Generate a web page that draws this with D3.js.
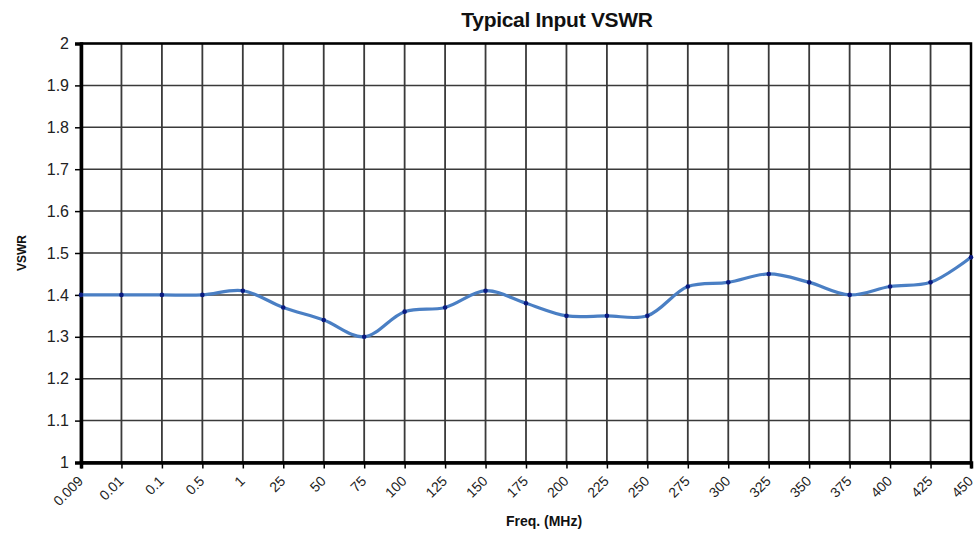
<!DOCTYPE html>
<html>
<head>
<meta charset="utf-8">
<script src="https://cdn.jsdelivr.net/npm/d3@7"></script>
<style>
  body { margin: 0; background: #fff; }
  text { font-family: "Liberation Sans", Arial, sans-serif; }
</style>
</head>
<body>
<svg id="chart" width="976" height="535"></svg>
<script>
// categories along the x axis (frequency, MHz)
const freqLabels = ["0.009", "0.01", "0.1", "0.5", "1", "25", "50", "75", "100", "125", "150",
    "175", "200", "225", "250", "275", "300", "325", "350", "375", "400", "425", "450"];
// VSWR
const vswrValues = [1.40, 1.40, 1.40, 1.40, 1.41, 1.37, 1.34, 1.30, 1.36, 1.37, 1.41,
    1.38, 1.35, 1.35, 1.35, 1.42, 1.43, 1.45, 1.43, 1.40, 1.42, 1.43, 1.49];
const yTicks = [1, 1.1, 1.2, 1.3, 1.4, 1.5, 1.6, 1.7, 1.8, 1.9, 2];

const margin = {top: 43.5, right: 5, bottom: 72.5, left: 81};
const width = 976 - margin.left - margin.right;
const height = 535 - margin.top - margin.bottom;

let svg = d3.select("#chart");
let g = svg.append("g").attr("transform", `translate(${margin.left},${margin.top})`);

let x = d3.scalePoint().domain(freqLabels).range([0, width]);
let y = d3.scaleLinear().domain([1, 2]).range([height, 0]);

// horizontal gridlines
g.selectAll("line.hgrid")
    .data(yTicks)
    .enter()
    .append("line")
    .attr("class", "hgrid")
    .attr("x1", 0).attr("x2", width)
    .attr("y1", d => y(d)).attr("y2", d => y(d))
    .attr("stroke", "#3a3a3a").attr("stroke-width", 1.5);

// vertical gridlines
g.selectAll("line.vgrid")
    .data(freqLabels)
    .enter()
    .append("line")
    .attr("class", "vgrid")
    .attr("x1", d => x(d)).attr("x2", d => x(d))
    .attr("y1", 0).attr("y2", height)
    .attr("stroke", "#3a3a3a").attr("stroke-width", 1.8);

// frame
g.append("rect")
    .attr("width", width).attr("height", height)
    .attr("fill", "none").attr("stroke", "#000").attr("stroke-width", 2.5);

// y axis
let yAxis = g.append("g")
    .call(d3.axisLeft(y).tickValues(yTicks).tickSize(6).tickPadding(6).tickFormat(d3.format("")));
yAxis.select(".domain").attr("stroke", "#000").attr("stroke-width", 3.5);
yAxis.selectAll(".tick line").attr("stroke", "#000").attr("stroke-width", 1.5);
yAxis.selectAll("text").attr("font-size", 16).attr("fill", "#222")
    .style("font-family", "Liberation Sans, Arial, sans-serif");

// x axis
let xAxis = g.append("g")
    .attr("transform", `translate(0,${height})`)
    .call(d3.axisBottom(x).tickSize(6).tickPadding(5));
xAxis.select(".domain").attr("stroke", "#000").attr("stroke-width", 3.5);
xAxis.selectAll(".tick line").attr("stroke", "#000").attr("stroke-width", 1.5);
xAxis.selectAll("text")
    .attr("font-size", 14).attr("fill", "#222")
    .style("font-family", "Liberation Sans, Arial, sans-serif")
    .attr("text-anchor", "end")
    .attr("x", 0).attr("y", 0).attr("dy", "0.35em")
    .attr("transform", "translate(-1,16) rotate(-45)");

// series line
let points = freqLabels.map((f, i) => ({f: f, v: vswrValues[i]}));
let line = d3.line()
    .x(d => x(d.f))
    .y(d => y(d.v))
    .curve(d3.curveCatmullRom.alpha(0.5));

g.append("path")
    .datum(points)
    .attr("d", line)
    .attr("fill", "none")
    .attr("stroke", "#4a7fc4")
    .attr("stroke-width", 3.2);

g.selectAll("circle.pt")
    .data(points)
    .enter()
    .append("circle")
    .attr("class", "pt")
    .attr("cx", d => x(d.f))
    .attr("cy", d => y(d.v))
    .attr("r", 2.3)
    .attr("fill", "#0a1a80");

// title and axis labels
svg.append("text")
    .attr("x", 557).attr("y", 27)
    .attr("text-anchor", "middle")
    .attr("font-size", 21).attr("font-weight", "bold")
    .attr("letter-spacing", "-0.3")
    .attr("fill", "#111")
    .text("Typical Input VSWR");

svg.append("text")
    .attr("transform", "translate(26,253) rotate(-90)")
    .attr("text-anchor", "middle")
    .attr("font-size", 12).attr("font-weight", "bold")
    .attr("fill", "#111")
    .text("VSWR");

svg.append("text")
    .attr("x", 544).attr("y", 526)
    .attr("text-anchor", "middle")
    .attr("font-size", 14).attr("font-weight", "bold")
    .attr("fill", "#111")
    .text("Freq. (MHz)");
</script>
</body>
</html>
